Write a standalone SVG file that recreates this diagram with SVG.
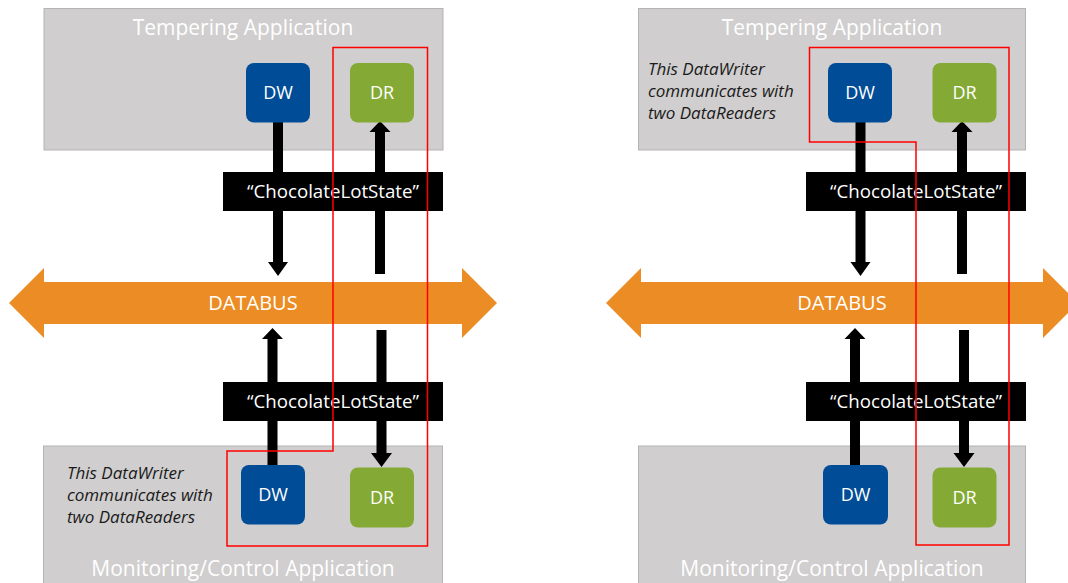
<svg xmlns="http://www.w3.org/2000/svg" width="1068" height="583" viewBox="0 0 1068 583">
<style>
.app{fill:#d0cece;stroke:#b4b4b4;stroke-width:1}
.apptitle{font-family:"Open Sans","Noto Sans",sans-serif;font-size:21px;fill:#ffffff;text-anchor:middle}
.dw{fill:#004c97}
.dr{fill:#84aa35}
.ent{font-family:"Open Sans","Noto Sans",sans-serif;font-size:18px;fill:#ffffff;text-anchor:middle}
.topic{fill:#000000}
.topictxt{font-family:"Open Sans","Noto Sans",sans-serif;font-size:18.7px;fill:#ffffff;text-anchor:middle}
.bus{fill:#ec8c24}
.bustxt{font-family:"Open Sans","Noto Sans",sans-serif;font-size:20px;fill:#ffffff;text-anchor:middle}
.arrow{fill:#000000}
.note{font-family:"Open Sans","Noto Sans",sans-serif;font-size:17px;font-style:italic;fill:#1a1a1a}
.hl{fill:none;stroke:#ff0000;stroke-width:1.5}
</style>
<rect width="1068" height="583" fill="#ffffff"/>

<!-- Left panel -->
<g id="left-tempering-app">
<rect class="app" x="44" y="8.5" width="399" height="141.5"/>
<text class="apptitle" x="243" y="35">Tempering Application</text>
</g>
<g id="left-monitoring-app">
<rect class="app" x="43.5" y="446" width="399" height="140"/>
<text class="apptitle" x="243" y="576">Monitoring/Control Application</text>
<text class="note" x="67" y="479">This DataWriter</text>
<text class="note" x="67" y="501">communicates with</text>
<text class="note" x="67" y="523">two DataReaders</text>
</g>
<g id="left-databus">
<path class="bus" d="M9,303 L44,268 V282 H462 V268 L497,303 L462,338 V324 H44 V338 Z"/>
<text class="bustxt" x="253" y="310">DATABUS</text>
</g>
<g id="left-connectors">
<path class="arrow" d="M273,122 H283 V262 H288 L278,276 L268,262 H273 Z"/>
<path class="arrow" d="M375,274 V132 H369.5 L380,121 L390.5,132 H385 V274 Z"/>
<path class="arrow" d="M267.5,465 V339 H262 L272.5,328 L283,339 H277.5 V465 Z"/>
<path class="arrow" d="M376.5,330 H386.5 V453 H392 L381.5,467 L371,453 H376.5 Z"/>
</g>
<g id="left-topic-top">
<rect class="topic" x="223" y="172" width="220" height="39"/>
<text class="topictxt" x="333" y="198">“ChocolateLotState”</text>
</g>
<g id="left-topic-bottom">
<rect class="topic" x="223" y="382" width="220" height="39"/>
<text class="topictxt" x="333" y="408">“ChocolateLotState”</text>
</g>
<g id="left-dw-top">
<rect class="dw" x="246" y="63" width="64" height="59.5" rx="8"/>
<text class="ent" x="278" y="99">DW</text>
</g>
<g id="left-dr-top">
<rect class="dr" x="350" y="63" width="64" height="59.5" rx="8"/>
<text class="ent" x="382" y="99">DR</text>
</g>
<g id="left-dw-bottom">
<rect class="dw" x="241" y="465" width="64" height="59.5" rx="8"/>
<text class="ent" x="273" y="501">DW</text>
</g>
<g id="left-dr-bottom">
<rect class="dr" x="350" y="467.5" width="64" height="60" rx="8"/>
<text class="ent" x="382" y="504">DR</text>
</g>
<g id="left-highlight">
<path class="hl" d="M333,47.5 H427.5 V546 H227 V451 H333 Z"/>
</g>

<!-- Right panel -->
<g id="right-tempering-app">
<rect class="app" x="638.5" y="8.5" width="387" height="141.5"/>
<text class="apptitle" x="832" y="35">Tempering Application</text>
<text class="note" x="648" y="75">This DataWriter</text>
<text class="note" x="648" y="97">communicates with</text>
<text class="note" x="648" y="119">two DataReaders</text>
</g>
<g id="right-monitoring-app">
<rect class="app" x="638.5" y="446" width="387" height="140"/>
<text class="apptitle" x="832" y="576">Monitoring/Control Application</text>
</g>
<g id="right-databus">
<path class="bus" d="M606,303 L641,268 V282 H1043 V268 L1078,303 L1043,338 V324 H641 V338 Z"/>
<text class="bustxt" x="842" y="310">DATABUS</text>
</g>
<g id="right-connectors">
<path class="arrow" d="M855.5,122 H865.5 V262 H870.5 L860.5,276 L850.5,262 H855.5 Z"/>
<path class="arrow" d="M957,274 V132 H951.5 L962,121 L972.5,132 H967 V274 Z"/>
<path class="arrow" d="M850,465 V339 H844.5 L855,328 L865.5,339 H860 V465 Z"/>
<path class="arrow" d="M959,330 H969 V453 H974.5 L964,467 L953.5,453 H959 Z"/>
</g>
<g id="right-topic-top">
<rect class="topic" x="806" y="172" width="220" height="39"/>
<text class="topictxt" x="916" y="198">“ChocolateLotState”</text>
</g>
<g id="right-topic-bottom">
<rect class="topic" x="806" y="382" width="220" height="39"/>
<text class="topictxt" x="916" y="408">“ChocolateLotState”</text>
</g>
<g id="right-dw-top">
<rect class="dw" x="828" y="63" width="64" height="59.5" rx="8"/>
<text class="ent" x="860" y="99">DW</text>
</g>
<g id="right-dr-top">
<rect class="dr" x="932.5" y="63" width="64" height="59.5" rx="8"/>
<text class="ent" x="964.5" y="99">DR</text>
</g>
<g id="right-dw-bottom">
<rect class="dw" x="823" y="465" width="65" height="59.5" rx="8"/>
<text class="ent" x="855.5" y="501">DW</text>
</g>
<g id="right-dr-bottom">
<rect class="dr" x="932.5" y="467.5" width="64" height="60" rx="8"/>
<text class="ent" x="964.5" y="504">DR</text>
</g>
<g id="right-highlight">
<path class="hl" d="M809.5,47.5 H1009 V545 H916 V142 H809.5 Z"/>
</g>
</svg>
